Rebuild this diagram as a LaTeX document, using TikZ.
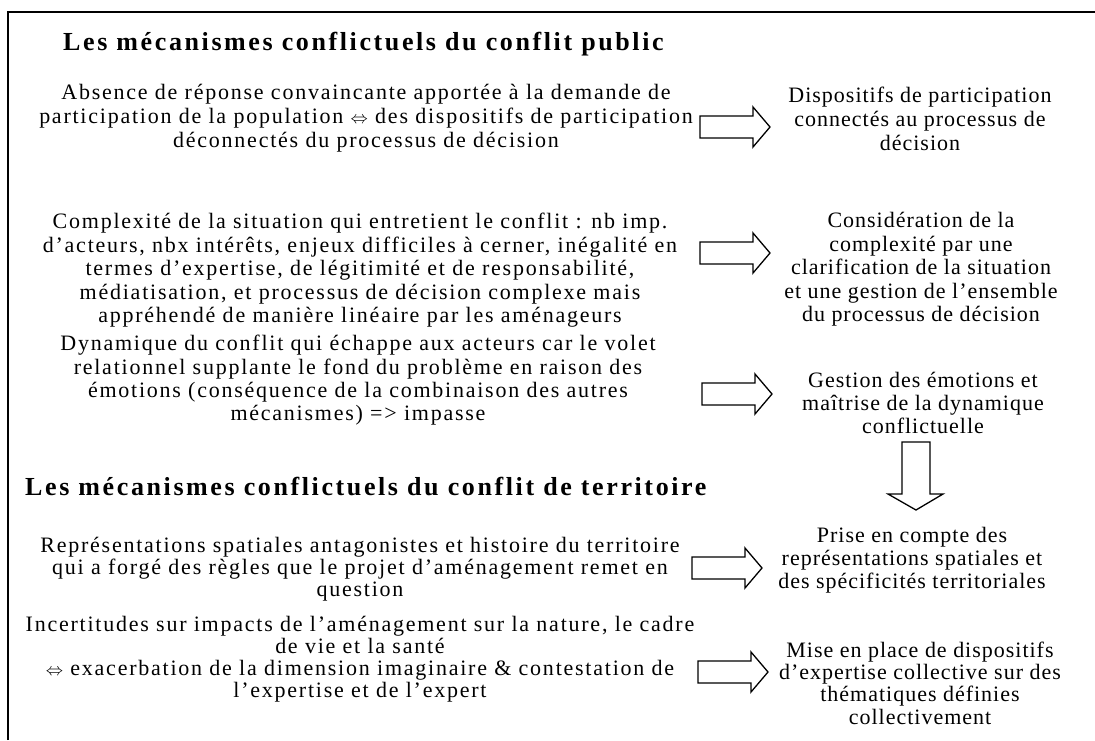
\documentclass[tikz,border=0pt]{standalone}
\usepackage{fontspec}
\newfontfamily\leftfamily{Liberation Serif}[LetterSpace=8]
\newfontfamily\rightfamily{Liberation Serif}[LetterSpace=4.5]
\newfontfamily\headfamily{Liberation Serif}[LetterSpace=10]
\newcommand\lfont[1]{\leftfamily\fontsize{22}{#1}\selectfont}
\newcommand\rfont[1]{\rightfamily\fontsize{22}{#1}\selectfont}
\newcommand\headfont{\headfamily\bfseries\fontsize{26}{30}\selectfont}
\newcommand\eqv{{\fontsize{19}{19}\selectfont$\Leftrightarrow$}}
\begin{document}
\begin{tikzpicture}[x=1pt, y=-1pt,
  mech/.style={align=center, inner sep=0pt},
  resp/.style={align=center, inner sep=0pt},
  head/.style={anchor=base west, inner sep=0pt, font=\headfont},
  blockarrow/.style={line width=1.3pt, line join=miter, fill=white}]
\useasboundingbox (0,0) rectangle (1095,740);
\draw[line width=1.6pt] (8,740) -- (8,12) -- (1095,12);
% titles
\node[head] (pubtitle) at (63,50) {Les mécanismes conflictuels du conflit public};
\node[head] (terrtitle) at (25,495) {Les mécanismes conflictuels du conflit de territoire};
% mechanisms
\node[mech, font=\lfont{24}] (mec1) at (366,118.5) {Absence de réponse convaincante apportée à la demande de\\
participation de la population \eqv{} des dispositifs de participation\\
déconnectés du processus de décision};
\node[mech, font=\lfont{23.5}] (mec2) at (360,270.5) {Complexité de la situation qui entretient le conflit : nb imp.\\
d’acteurs, nbx intérêts, enjeux difficiles à cerner, inégalité en\\
termes d’expertise, de légitimité et de responsabilité,\\
médiatisation, et processus de décision complexe mais\\
appréhendé de manière linéaire par les aménageurs};
\node[mech, font=\lfont{23.3}] (mec3) at (358,380.5) {Dynamique du conflit qui échappe aux acteurs car le volet\\
relationnel supplante le fond du problème en raison des\\
émotions (conséquence de la combinaison des autres\\
mécanismes) => impasse};
\node[mech, font=\lfont{22}] (mec4) at (360,569.5) {Représentations spatiales antagonistes et histoire du territoire\\
qui a forgé des règles que le projet d’aménagement remet en\\
question};
\node[mech, font=\lfont{22}] (mec5) at (360,659.5) {Incertitudes sur impacts de l’aménagement sur la nature, le cadre\\
de vie et la santé\\
\eqv{} exacerbation de la dimension imaginaire \& contestation de\\
l’expertise et de l’expert};
% responses
\node[resp, font=\rfont{24}] (rep1) at (920,118.5) {Dispositifs de participation\\connectés au processus de\\décision};
\node[resp, font=\rfont{23.5}] (rep2) at (921,269.5) {Considération de la\\complexité par une\\clarification de la situation\\
et une gestion de l’ensemble\\du processus de décision};
\node[resp, font=\rfont{23}] (rep3) at (923,402.5) {Gestion des émotions et\\maîtrise de la dynamique\\conflictuelle};
\node[resp, font=\rfont{23}] (rep4) at (912,560.5) {Prise en compte des\\représentations spatiales et\\des spécificités territoriales};
\node[resp, font=\rfont{22.3}] (rep5) at (920,683) {Mise en place de dispositifs\\d’expertise collective sur des\\thématiques définies\\collectivement};
% block arrows
\foreach \x/\y in {700/127, 700/253, 702/394, 692/568, 698/672} {
\draw[blockarrow] (\x,\y-11) -- (\x+53,\y-11) -- (\x+53,\y-20) -- (\x+70,\y)
  -- (\x+53,\y+20) -- (\x+53,\y+11) -- (\x,\y+11) -- cycle;}
\draw[blockarrow] (902,442) -- (930,442) -- (930,494) -- (943,494) -- (916,510)
  -- (888,494) -- (902,494) -- cycle;
\end{tikzpicture}
\end{document}
